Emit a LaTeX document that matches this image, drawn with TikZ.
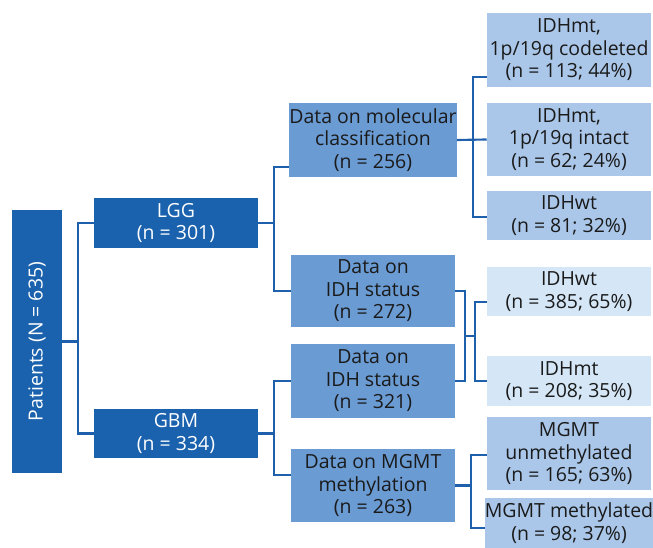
\documentclass[tikz,border=0pt]{standalone}
\usepackage{fontspec}
\setmainfont{Open Sans}
\usetikzlibrary{calc}
\definecolor{cdark}{HTML}{1B62AE}
\definecolor{cmid}{HTML}{6A9BD3}
\definecolor{clight}{HTML}{AAC7E9}
\definecolor{cpale}{HTML}{D5E7F7}
\definecolor{cline}{HTML}{1F60AC}
\definecolor{ctext}{HTML}{1A1A1A}
\tikzset{
  box/.style={rectangle, inner sep=0pt, align=center, font=\fontsize{14.6}{16.9}\selectfont, minimum width=164*0.75pt},
  darkbox/.style={box, fill=cdark, text=white},
  midbox/.style={box, fill=cmid, text=ctext},
  lightbox/.style={box, fill=clight, text=ctext},
  palebox/.style={box, fill=cpale, text=ctext},
  conn/.style={draw=cline, line width=1.6pt},
}
\begin{document}
\begin{tikzpicture}[x=0.75pt,y=-0.75pt]
\useasboundingbox (0,0) rectangle (653,548);
% column 1
\node[darkbox, minimum width=50*0.75pt, minimum height=263*0.75pt] (P) at (37,341.5) {};
\node[rotate=90, text=white, font=\fontsize{14.6}{16.9}\selectfont] (Pt) at (P.center) {Patients (N = 635)};
% column 2
\node[darkbox, minimum height=50*0.75pt] (LGG) at (176,223) {LGG\\(n = 301)};
\node[darkbox, minimum height=49*0.75pt] (GBM) at (176,433.5) {GBM\\(n = 334)};
% column 3
\node[midbox, minimum height=74*0.75pt] (MOL) at (373,140) {Data on molecular\\classification\\(n = 256)};
\node[midbox, minimum height=72*0.75pt] (IDH1) at (373,291) {Data on\\IDH status\\(n = 272)};
\node[midbox, minimum height=74*0.75pt] (IDH2) at (373,381) {Data on\\IDH status\\(n = 321)};
\node[midbox, minimum height=73*0.75pt] (MGMT) at (373,485.5) {Data on MGMT\\methylation\\(n = 263)};
% column 4
\node[lightbox, minimum height=74*0.75pt] (R1) at (569,50) {IDHmt,\\1p/19q codeleted\\(n = 113; 44\%)};
\node[lightbox, minimum height=73*0.75pt] (R2) at (569,139.5) {IDHmt,\\1p/19q intact\\(n = 62; 24\%)};
\node[lightbox, minimum height=49*0.75pt] (R3) at (569,215.5) {IDHwt\\(n = 81; 32\%)};
\node[palebox, minimum height=49*0.75pt] (WT) at (569,291.5) {IDHwt\\(n = 385; 65\%)};
\node[palebox, minimum height=50*0.75pt] (MT) at (569,381) {IDHmt\\(n = 208; 35\%)};
\node[lightbox, minimum height=73*0.75pt] (U) at (569,453.5) {MGMT\\unmethylated\\(n = 165; 63\%)};
\node[lightbox, minimum height=50*0.75pt] (M) at (569,523) {MGMT methylated\\(n = 98; 37\%)};
% connectors
\coordinate (j0) at ($(P.east)+(16,0)$);
\draw[conn] (P.east) -- (j0);
\draw[conn] (LGG.west) -| (j0) |- (GBM.west);
\coordinate (j1) at ($(LGG.east)+(16,0)$);
\draw[conn] (LGG.east) -- (j1);
\draw[conn] ($(MOL.west)+(0,27)$) -| (j1) |- (IDH1.west);
\coordinate (j2) at ($(GBM.east)+(16,0)$);
\draw[conn] (GBM.east) -- (j2);
\draw[conn] (IDH2.west) -| (j2) |- ($(MGMT.west)+(0,-10.5)$);
\coordinate (j3) at ($(MOL.east)+(16,0)$);
\draw[conn] (MOL.east) -- (R2.west);
\draw[conn] ($(R1.west)+(0,27)$) -| (j3) |- ($(R3.west)+(0,1.5)$);
\coordinate (k1) at ($(IDH1.east)+(10,0)$);
\coordinate (k2) at ($(IDH2.east)+(10,0)$);
\coordinate (k3) at ($(k1)!0.5!(k2)$);
\draw[conn] (IDH1.east) -- (k1) -- (k2) -- (IDH2.east);
\coordinate (k4) at ($(k3)+(10,0)$);
\draw[conn] (k3) -- (k4);
\draw[conn] ($(WT.west)+(0,10.5)$) -| (k4) |- (MT.west);
\coordinate (j5) at ($(MGMT.east)+(16,0)$);
\draw[conn] (MGMT.east) -- (j5);
\draw[conn] ($(U.west)+(0,1.5)$) -| (j5) |- ($(M.west)+(0,5)$);
\end{tikzpicture}
\end{document}
